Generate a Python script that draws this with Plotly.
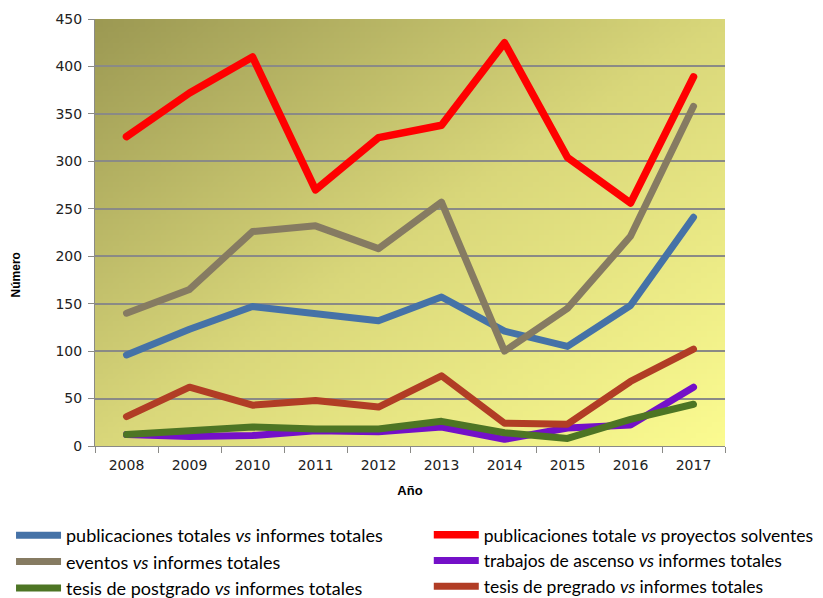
# Line chart: ratios per year, 2008-2017

import base64
import struct
import zlib

import plotly.graph_objects as go

# Data
YEARS = ["2008", "2009", "2010", "2011", "2012", "2013", "2014", "2015", "2016", "2017"]

PUB_INF = [96, 123, 147, 140, 132, 157, 121, 105, 148, 241]        # publicaciones totales vs informes totales
PUB_PROY = [326, 372, 410, 270, 325, 338, 425, 304, 256, 389]      # publicaciones totale vs proyectos solventes
EVENTOS = [140, 165, 226, 232, 208, 257, 100, 145, 221, 358]       # eventos vs informes totales
ASCENSO = [12, 10, 11, 16, 15, 20, 7, 19, 22, 62]                  # trabajos de ascenso vs informes totales
POSTGRADO = [12, 16, 20, 18, 18, 26, 14, 8, 28, 44]                # tesis de postgrado vs informes totales
PREGRADO = [31, 62, 43, 48, 41, 74, 24, 23, 68, 102]               # tesis de pregrado vs informes totales

Y_TICKS = [0, 50, 100, 150, 200, 250, 300, 350, 400, 450]

# Colors
BLUE = "#4572a7"
RED = "#ff0000"
GREY = "#867b62"
PURPLE = "#7410c8"
GREEN = "#4d7524"
BROWN = "#b13d25"
GRID = "#8a8a86"


# background gradient (olive top-left -> light yellow bottom-right) as a small png
def gradient_png(w=120, h=80):
    stops = [(0.0, (0x9c, 0x99, 0x53)), (0.5, (0xd9, 0xd7, 0x7a)), (1.0, (0xfb, 0xfb, 0x90))]

    def col(t):
        for (t0, c0), (t1, c1) in zip(stops[:-1], stops[1:]):
            if t <= t1:
                f = (t - t0) / (t1 - t0)
                return bytes(int(round(a + (b - a) * f)) for a, b in zip(c0, c1))
        return bytes(stops[-1][1])

    raw = b""
    for j in range(h):
        raw += b"\x00"
        for i in range(w):
            raw += col((i / (w - 1) + j / (h - 1)) / 2)

    def chunk(tag, data):
        c = struct.pack(">I", len(data)) + tag + data
        return c + struct.pack(">I", zlib.crc32(tag + data) & 0xffffffff)

    png = b"\x89PNG\r\n\x1a\n"
    png += chunk(b"IHDR", struct.pack(">IIBBBBB", w, h, 8, 2, 0, 0, 0))
    png += chunk(b"IDAT", zlib.compress(raw, 9))
    png += chunk(b"IEND", b"")
    return "data:image/png;base64," + base64.b64encode(png).decode()


# (name, values, colour, width, legend column)
series = [
    ("publicaciones totales <i>vs</i> informes totales", PUB_INF, BLUE, 7, "legend"),
    ("publicaciones totale <i>vs</i> proyectos solventes", PUB_PROY, RED, 7.5, "legend2"),
    ("eventos <i>vs</i> informes totales", EVENTOS, GREY, 7, "legend"),
    ("trabajos de ascenso <i>vs</i> informes totales", ASCENSO, PURPLE, 7, "legend2"),
    ("tesis de postgrado <i>vs</i> informes totales", POSTGRADO, GREEN, 7, "legend"),
    ("tesis de pregrado <i>vs</i> informes totales", PREGRADO, BROWN, 7, "legend2"),
]

fig = go.Figure()

# draw order: purple under green, red / grey on top like the original
draw_order = [3, 4, 5, 0, 2, 1]
for k in draw_order:
    name, vals, color, lw, leg = series[k]
    fig.add_trace(
        go.Scatter(
            x=YEARS,
            y=vals,
            name=name,
            mode="lines",
            line=dict(color=color, width=lw),
            legend=leg,
            legendrank=k + 1,
            hovertemplate="%{x}: %{y}<extra></extra>",
        )
    )

fig.update_xaxes(
    type="category",
    range=[-0.5, 9.5],
    tickson="boundaries",
    ticks="outside",
    ticklen=6,
    tickcolor=GRID,
    ticklabelstandoff=6,
    showline=True,
    linecolor=GRID,
    linewidth=1,
    showgrid=False,
    tickfont=dict(family="DejaVu Sans", size=14, color="#222222"),
    title=dict(text="<b>Año</b>", font=dict(family="Liberation Sans", size=13, color="black"), standoff=14),
)

fig.update_yaxes(
    range=[0, 450],
    tickvals=Y_TICKS,
    ticks="outside",
    ticklen=6,
    tickcolor=GRID,
    ticklabelstandoff=3,
    showline=True,
    linecolor=GRID,
    linewidth=1,
    showgrid=True,
    gridcolor=GRID,
    gridwidth=1.5,
    zeroline=False,
    tickfont=dict(family="DejaVu Sans", size=14, color="#222222"),
)

# y axis title placed a bit below centre, as in the original
fig.add_annotation(
    text="<b>Número</b>",
    textangle=-90,
    xref="paper", yref="paper",
    x=-0.125, y=0.40,
    xanchor="center", yanchor="middle",
    showarrow=False,
    font=dict(family="Liberation Sans", size=12, color="black"),
)

fig.add_layout_image(
    source=gradient_png(),
    xref="x domain", yref="y domain",
    x=0, y=1, sizex=1, sizey=1,
    xanchor="left", yanchor="top",
    sizing="stretch",
    layer="below",
)

# two horizontal legends, each item wide enough to sit on its own row -> two columns
legend_style = dict(
    orientation="h",
    xref="container", yref="container",
    y=0.1355,
    xanchor="left", yanchor="top",
    traceorder="normal",
    itemwidth=45,
    entrywidth=380,
    entrywidthmode="pixels",
    bgcolor="rgba(0,0,0,0)",
)

fig.update_layout(
    width=823,
    height=598,
    margin=dict(l=95, r=98, t=19, b=152),
    paper_bgcolor="white",
    plot_bgcolor="rgba(0,0,0,0)",
    showlegend=True,
    legend=dict(x=0.0134, font=dict(family="Lato", size=18, color="black"), **legend_style),
    legend2=dict(x=0.521, font=dict(family="Lato", size=17.5, color="black"), **legend_style),
)

# page body has a default 8px margin; drop it so the figure sits at 0,0,
# and round the joins of the thick lines like the original
post = (
    "document.body.style.margin='0';"
    "document.querySelectorAll('.scatterlayer .js-line').forEach(function(p){"
    "p.style.strokeLinejoin='round';p.style.strokeLinecap='round';});"
)
fig.write_html("out.html", post_script=post, config={"displayModeBar": False})
